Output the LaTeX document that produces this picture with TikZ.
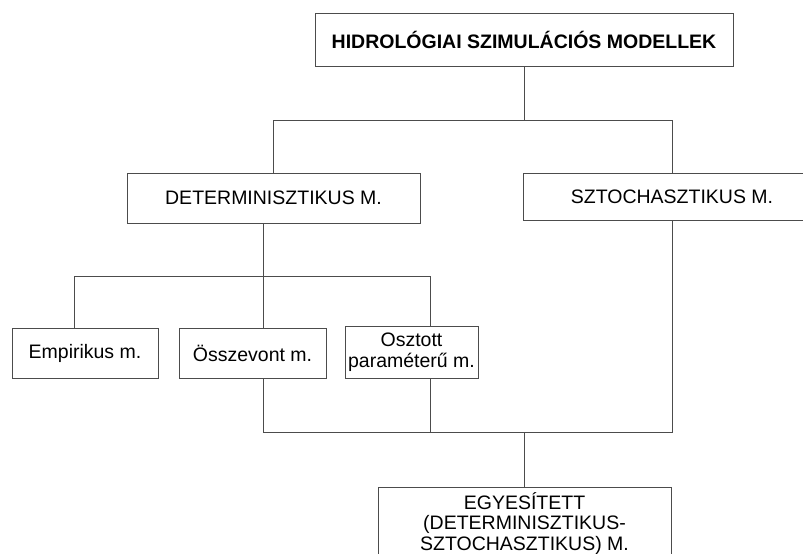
\documentclass[tikz,border=0pt]{standalone}
\usepackage{fontspec}
\setmainfont{Liberation Sans}
\begin{document}
\begin{tikzpicture}[x=1pt,y=-1pt,
  box/.style={draw=black!70, line width=0.9pt, fill=white, inner sep=0pt, align=center, font=\fontsize{19.5}{21}\selectfont},
  conn/.style={draw=black!70, line width=0.9pt}]
\useasboundingbox[fill=white] (0,0) rectangle (803,554);
% boxes
\node[box, minimum width=418, minimum height=53, font=\bfseries\fontsize{19.5}{22}\selectfont] (top) at (524,39.5) {HIDROLÓGIAI SZIMULÁCIÓS MODELLEK};
\node[box, minimum width=293, minimum height=50] (det) at (273.5,198) {DETERMINISZTIKUS M.};
\node[box, minimum width=298, minimum height=47] (szt) at (672,196.5) {SZTOCHASZTIKUS M.};
\node[box, minimum width=146, minimum height=50] (emp) at (85,353) {Empirikus m.};
\node[box, minimum width=147, minimum height=50] (ossz) at (252.5,353) {Összevont m.};
\node[box, minimum width=133, minimum height=52] (oszt) at (411.5,352) {Osztott\\paraméterű m.};
\node[box, minimum width=293, minimum height=90, anchor=north] (egy) at (524.5,487) {};
\node[box, draw=none, fill=none, anchor=north, font=\fontsize{19.5}{20.5}\selectfont] (egyt) at ([yshift=-5]egy.north) {EGYESÍTETT\\(DETERMINISZTIKUS-\\SZTOCHASZTIKUS) M.};
% junction coordinates
\coordinate (a1) at (273,120);
\coordinate (a2) at (672,120);
\coordinate (b1) at (74,276);
\coordinate (b2) at (263,276);
\coordinate (b3) at (430,276);
\coordinate (c1) at (263,432);
\coordinate (c2) at (430,432);
\coordinate (c3) at (524,432);
\coordinate (c4) at (672,432);
% connectors
\draw[conn] (top.south) -- (top.south |- a1);
\draw[conn] (a1 |- det.north) -- (a1) -- (a2) -- (a2 |- szt.north);
\draw[conn] (b2 |- det.south) -- (b2 |- ossz.north);
\draw[conn] (b1 |- emp.north) -- (b1) -- (b3) -- (b3 |- oszt.north);
\draw[conn] (c1 |- ossz.south) -- (c1) -- (c4) -- (c4 |- szt.south);
\draw[conn] (c2 |- oszt.south) -- (c2);
\draw[conn] (c3) -- (c3 |- egy.north);
\end{tikzpicture}
\end{document}
